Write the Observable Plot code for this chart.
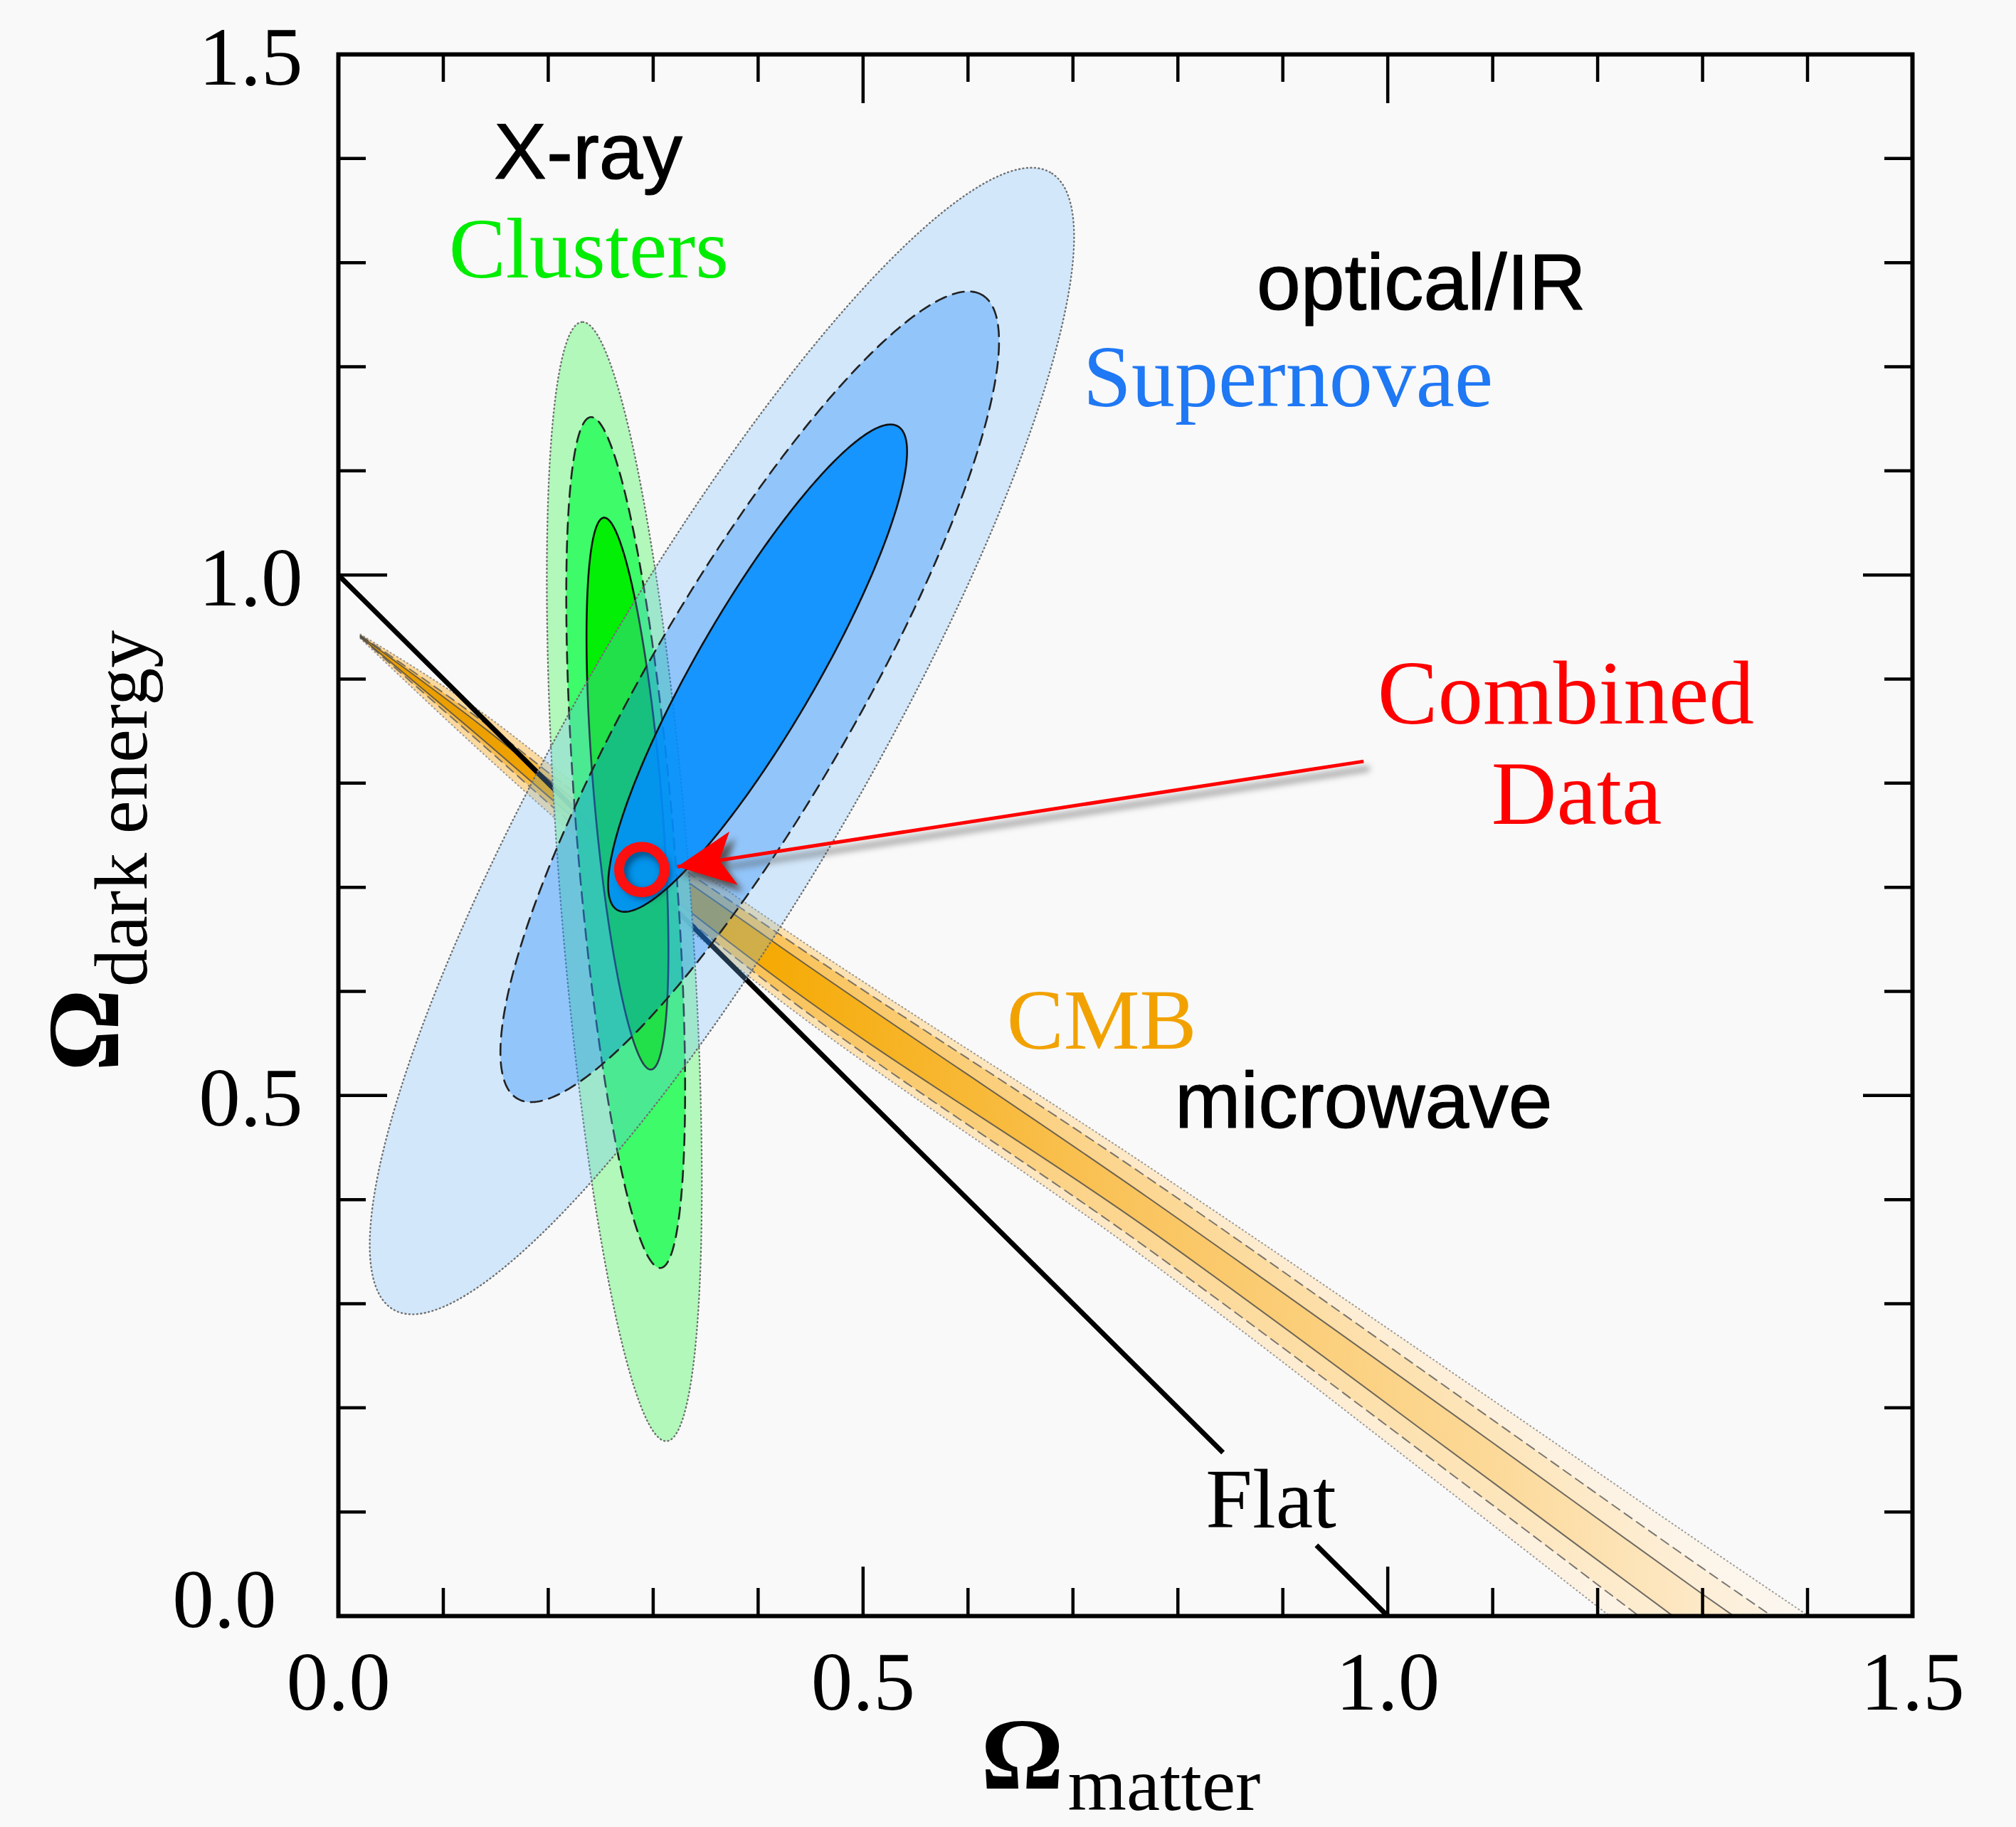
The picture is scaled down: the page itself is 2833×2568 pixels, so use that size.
<!DOCTYPE html>
<html>
<head>
<meta charset="utf-8">
<script src="https://cdn.jsdelivr.net/npm/d3@7"></script>
<script src="https://cdn.jsdelivr.net/npm/@observablehq/plot@0.6"></script>
<style>
  html, body { margin: 0; padding: 0; background: #f9f9f9; }
  #stage { position: relative; width: 2833px; height: 2568px; overflow: hidden; background: #f9f9f9; }
  #stage svg { position: absolute; left: 0; top: 0; max-width: none; }
</style>
</head>
<body>
<svg width="0" height="0" style="position:absolute;left:0;top:0">
  <defs>
    <linearGradient id="cmbOuter" x1="0" y1="0" x2="1" y2="0">
      <stop offset="0" stop-color="#fad699"/>
      <stop offset="0.27" stop-color="#fce0ad"/>
      <stop offset="0.52" stop-color="#fde9c8"/>
      <stop offset="0.75" stop-color="#fdf0dc"/>
      <stop offset="0.89" stop-color="#fcf5ea"/>
      <stop offset="1" stop-color="#faf7f1"/>
    </linearGradient>
    <linearGradient id="cmbMid" x1="0" y1="0" x2="1" y2="0">
      <stop offset="0" stop-color="#f5b84a"/>
      <stop offset="0.27" stop-color="#f9c35a"/>
      <stop offset="0.52" stop-color="#fcd793"/>
      <stop offset="0.75" stop-color="#fde5ba"/>
      <stop offset="0.89" stop-color="#fdefd8"/>
      <stop offset="1" stop-color="#fcf5ea"/>
    </linearGradient>
    <linearGradient id="cmbInner" x1="0" y1="0" x2="1" y2="0">
      <stop offset="0" stop-color="#e89c00"/>
      <stop offset="0.14" stop-color="#f0a300"/>
      <stop offset="0.27" stop-color="#f5aa05"/>
      <stop offset="0.52" stop-color="#fac560"/>
      <stop offset="0.75" stop-color="#fcd998"/>
      <stop offset="0.89" stop-color="#fde9c8"/>
      <stop offset="1" stop-color="#fdf3e2"/>
    </linearGradient>
    <marker id="arrowHeadRed" markerUnits="userSpaceOnUse" orient="auto" markerWidth="120" markerHeight="120" viewBox="-100 -60 120 120" refX="0" refY="0" overflow="visible">
      <path d="M0,0L-80,-38L-60,0L-80,38Z" fill="#ff0000"/>
    </marker>
    <marker id="arrowHeadShadow" markerUnits="userSpaceOnUse" orient="auto" markerWidth="120" markerHeight="120" viewBox="-100 -60 120 120" refX="0" refY="0" overflow="visible">
      <path d="M0,0L-80,-38L-60,0L-80,38Z" fill="#555555"/>
    </marker>
  </defs>
</svg>
<div id="stage"></div>
<script>
// ---------------- DATA ----------------
// Axis ticks and labels
const xTickValues = [0, 0.5, 1.0, 1.5];
const xTickLabels = ["0.0", "0.5", "1.0", "1.5"];
const yTickValues = [0, 0.5, 1.0, 1.5];
const yTickLabels = ["0.0", "0.5", "1.0", "1.5"];
const xMinorTicks = [0.1, 0.2, 0.3, 0.4, 0.6, 0.7, 0.8, 0.9, 1.1, 1.2, 1.3, 1.4];
const xMajorTicks = [0.5, 1.0];
const yMinorTicks = [0.1, 0.2, 0.3, 0.4, 0.6, 0.7, 0.8, 0.9, 1.1, 1.2, 1.3, 1.4];
const yMajorTicks = [0.5, 1.0];

// Flat universe line (Ωm + ΩΛ = 1), broken around the "Flat" label
const flatSegment = ["upper", "upper", "lower", "lower"];
const flatX = [0.000, 0.843, 0.932, 1.000];
const flatY = [1.000, 0.157, 0.068, 0.000];

// CMB band: centre line and half-widths of three confidence levels
const cmbX          = [0.021, 0.134, 0.225, 0.407, 0.770, 1.102, 1.300, 1.460];
const cmbCenter     = [0.941, 0.851, 0.775, 0.637, 0.388, 0.146, 0.000, -0.115];
const cmbHalfOuter  = [0.002, 0.019, 0.025, 0.035, 0.045, 0.060, 0.069, 0.075];
const cmbHalfMiddle = [0.001, 0.011, 0.016, 0.027, 0.034, 0.041, 0.046, 0.050];
const cmbHalfInner  = [0.0005, 0.006, 0.009, 0.016, 0.015, 0.019, 0.021, 0.023];

// X-ray cluster contours (outer, middle, inner): centre, semi-axes, angle (deg)
const clusterCx    = [0.2725, 0.2738, 0.2755];
const clusterCy    = [0.7055, 0.7430, 0.7900];
const clusterA     = [0.539, 0.410, 0.266];
const clusterB     = [0.062, 0.046, 0.032];
const clusterAngle = [94.3, 94.65, 94.85];

// Supernova contours (outer, middle, inner)
const snCx    = [0.3655, 0.3920, 0.3995];
const snCy    = [0.8405, 0.8830, 0.9105];
const snA     = [0.6295, 0.445, 0.268];
const snB     = [0.140, 0.100, 0.057];
const snAngle = [60.2, 60.2, 60.1];

// Combined data point and arrow
const combinedX = [0.2892];
const combinedY = [0.717];
const arrowX1 = [0.977], arrowY1 = [0.821];
const arrowX2 = [0.323], arrowY2 = [0.7197];

// Labels (baseline positions)
const serifLabelText  = ["Clusters", "Supernovae", "Combined", "Data", "CMB", "Flat"];
const serifLabelX     = [0.2386, 0.905, 1.1697, 1.180, 0.7274, 0.8887];
const serifLabelY     = [1.2856, 1.162, 0.857, 0.761, 0.545, 0.0854];
const serifLabelColor = ["#00ec00", "#1f78f4", "#ff0000", "#ff0000", "#f2a200", "#000000"];
const sansLabelText = ["X-ray", "optical/IR", "microwave"];
const sansLabelX    = [0.238, 1.032, 0.977];
const sansLabelY    = [1.381, 1.2553, 0.469];

// ---------------- LAYOUT / STYLE ----------------
const W = 2833, H = 2568, mL = 475, mR = 146, mT = 76, mB = 297;
const plotW = W - mL - mR, plotH = H - mT - mB;
const SERIF = "'Liberation Serif', 'Times New Roman', serif";
const SANS = "'Liberation Sans', Arial, Helvetica, sans-serif";

function makePlot(marks, bg) {
  const svg = Plot.plot({
    width: W, height: H,
    marginLeft: mL, marginRight: mR, marginTop: mT, marginBottom: mB,
    x: {domain: [0, 1.5], axis: null},
    y: {domain: [0, 1.5], axis: null},
    marks
  });
  svg.style.background = bg || "transparent";
  svg.style.position = "absolute";
  svg.style.left = "0px";
  svg.style.top = "0px";
  svg.style.maxWidth = "none";
  svg.style.overflow = "visible";
  return svg;
}

function ellipsePoints(cx, cy, a, b, deg) {
  const th = deg * Math.PI / 180, pts = [], n = 360;
  for (let i = 0; i < n; i++) {
    const t = 2 * Math.PI * i / n;
    const u = a * Math.cos(t), v = b * Math.sin(t);
    pts.push({x: cx + u * Math.cos(th) - v * Math.sin(th), y: cy + u * Math.sin(th) + v * Math.cos(th)});
  }
  return pts;
}

const outlineStyles = [
  {stroke: "#707070", strokeWidth: 2.4, strokeDasharray: "1,4.5"},
  {stroke: "#222222", strokeWidth: 2.6, strokeDasharray: "16,10"},
  {stroke: "#111111", strokeWidth: 2.6}
];

function ellipseMarks(cxs, cys, as, bs, angs, colors, opacities) {
  const marks = [];
  for (let i = 0; i < 3; i++) {
    const pts = ellipsePoints(cxs[i], cys[i], as[i], bs[i], angs[i]);
    marks.push(Plot.line(pts, {x: "x", y: "y", curve: "linear-closed", fill: colors[i], fillOpacity: opacities[i], stroke: "none"}));
    marks.push(Plot.line(pts, {x: "x", y: "y", curve: "linear-closed", ...outlineStyles[i]}));
  }
  return marks;
}

const cmbRows = cmbX.map((x, i) => ({x, c: cmbCenter[i], ho: cmbHalfOuter[i], hm: cmbHalfMiddle[i], hi: cmbHalfInner[i]}));
const flatRows = flatX.map((x, i) => ({x, y: flatY[i], seg: flatSegment[i]}));
const combinedRows = combinedX.map((x, i) => ({x, y: combinedY[i]}));
const arrowRows = arrowX1.map((x1, i) => ({x1, y1: arrowY1[i], x2: arrowX2[i], y2: arrowY2[i]}));

const greenColors = ["#a8f7b2", "#33fb62", "#00ee00"];
const greenOpacity = [0.9, 0.92, 0.95];
// translucent blue layers stacked over the cluster contours
const blueColors = ["#6ebcff", "#0076fc", "#008cff"];
const blueOpacity = [0.28, 0.30, 0.85];

// ---------------- LAYER 1: band, flat line, contours ----------------
const bandFills = [["ho", "url(#cmbOuter)"], ["hm", "url(#cmbMid)"], ["hi", "url(#cmbInner)"]];
const bandLines = [
  ["ho", {stroke: "#8a8a8a", strokeWidth: 2, strokeDasharray: "1,4.5", strokeOpacity: 0.85}],
  ["hm", {stroke: "#5a5a5a", strokeWidth: 2, strokeDasharray: "13,8", strokeOpacity: 0.8}],
  ["hi", {stroke: "#4a4a4a", strokeWidth: 2, strokeOpacity: 0.8}]
];
const baseMarks = [
  ...bandFills.map(([h, fill]) => Plot.areaY(cmbRows, {x: "x", y1: d => d.c - d[h], y2: d => d.c + d[h], fill, curve: "monotone-x", clip: true})),
  ...bandLines.flatMap(([h, st]) => [
    Plot.line(cmbRows, {x: "x", y: d => d.c + d[h], curve: "monotone-x", clip: true, ...st}),
    Plot.line(cmbRows, {x: "x", y: d => d.c - d[h], curve: "monotone-x", clip: true, ...st})
  ]),
  Plot.line(flatRows, {x: "x", y: "y", z: "seg", stroke: "#000", strokeWidth: 7, strokeLinecap: "butt"}),
  ...ellipseMarks(clusterCx, clusterCy, clusterA, clusterB, clusterAngle, greenColors, greenOpacity),
  ...ellipseMarks(snCx, snCy, snA, snB, snAngle, blueColors, blueOpacity)
];

// ---------------- LAYER 2: shadows ----------------
const shadowMarks = [
  Plot.link(arrowRows, {x1: "x1", y1: "y1", x2: "x2", y2: "y2", stroke: "#555555", strokeOpacity: 0.6, strokeWidth: 7, dx: 8, dy: 10}),
  Plot.dot(combinedRows, {x: "x", y: "y", r: 30, stroke: "#002244", strokeOpacity: 0.6, strokeWidth: 12, fill: "none", dx: 4, dy: 5})
];

// ---------------- LAYER 3: annotations, frame, ticks, labels ----------------
const tickStyle = {stroke: "#000", strokeWidth: 4.5};
const serifSize = {Clusters: 120, Supernovae: 122, Combined: 127, Data: 127, CMB: 120, Flat: 118};
const topMarks = [
  Plot.dot(combinedRows, {x: "x", y: "y", r: 32, stroke: "#ff1010", strokeWidth: 14, fill: "none"}),
  Plot.link(arrowRows, {x1: "x1", y1: "y1", x2: "x2", y2: "y2", stroke: "#ff0000", strokeWidth: 5}),
  // ticks (inward, all four sides)
  Plot.tickX(xMinorTicks, {x: d => d, insetTop: plotH - 39, ...tickStyle}),
  Plot.tickX(xMajorTicks, {x: d => d, insetTop: plotH - 69, ...tickStyle}),
  Plot.tickX(xMinorTicks, {x: d => d, insetBottom: plotH - 39, ...tickStyle}),
  Plot.tickX(xMajorTicks, {x: d => d, insetBottom: plotH - 69, ...tickStyle}),
  Plot.tickY(yMinorTicks, {y: d => d, insetRight: plotW - 39, ...tickStyle}),
  Plot.tickY(yMajorTicks, {y: d => d, insetRight: plotW - 69, ...tickStyle}),
  Plot.tickY(yMinorTicks, {y: d => d, insetLeft: plotW - 39, ...tickStyle}),
  Plot.tickY(yMajorTicks, {y: d => d, insetLeft: plotW - 69, ...tickStyle}),
  Plot.frame({stroke: "#000", strokeWidth: 6}),
  // tick labels
  Plot.text(xTickValues, {x: d => d, text: (d, i) => xTickLabels[i], frameAnchor: "bottom", dy: 94,
    fontFamily: SERIF, fontSize: 117, fill: "#000", textAnchor: "middle", lineAnchor: "middle"}),
  Plot.text(yTickValues.slice(1), {y: d => d, text: (d, i) => yTickLabels[i + 1], frameAnchor: "left", dx: -50, dy: 5,
    fontFamily: SERIF, fontSize: 117, fill: "#000", textAnchor: "end", lineAnchor: "middle"}),
  Plot.text(yTickValues.slice(0, 1), {y: d => d, text: (d, i) => yTickLabels[i], frameAnchor: "left", dx: -87, dy: -22,
    fontFamily: SERIF, fontSize: 117, fill: "#000", textAnchor: "end", lineAnchor: "middle"}),
  // axis titles
  Plot.text(["Ω"], {text: d => d, frameAnchor: "bottom", dx: -145, dy: 242, fontFamily: SERIF, fontSize: 145,
    fontWeight: "bold", fill: "#000", textAnchor: "middle", lineAnchor: "bottom"}),
  Plot.text(["matter"], {text: d => d, frameAnchor: "bottom", dx: -81, dy: 272, fontFamily: SERIF, fontSize: 106,
    fill: "#000", textAnchor: "start", lineAnchor: "bottom"}),
  Plot.text(["Ω"], {text: d => d, frameAnchor: "left", dx: -310, dy: 274, rotate: -90, fontFamily: SERIF, fontSize: 145,
    fontWeight: "bold", fill: "#000", textAnchor: "middle", lineAnchor: "bottom"}),
  Plot.text(["dark energy"], {text: d => d, frameAnchor: "left", dx: -270, dy: 213, rotate: -90, fontFamily: SERIF, fontSize: 106,
    fill: "#000", textAnchor: "start", lineAnchor: "bottom"}),
  // in-plot labels
  ...serifLabelText.map((t, i) => Plot.text([i], {x: j => serifLabelX[j], y: j => serifLabelY[j], text: j => serifLabelText[j],
    fill: serifLabelColor[i], fontFamily: SERIF, fontSize: serifSize[t], textAnchor: "middle", lineAnchor: "bottom"})),
  Plot.text(sansLabelText, {x: (d, i) => sansLabelX[i], y: (d, i) => sansLabelY[i], text: d => d,
    fill: "#000", stroke: "#000", strokeWidth: 1.2, fontFamily: SANS, fontSize: 111, textAnchor: "middle", lineAnchor: "bottom"})
];

// ---------------- RENDER ----------------
const stageEl = document.getElementById("stage");
const baseLayer = makePlot(baseMarks, "#f9f9f9");
const shadowLayer = makePlot(shadowMarks);
shadowLayer.style.filter = "blur(5px)";
const topLayer = makePlot(topMarks);
[baseLayer, shadowLayer, topLayer].forEach(s => stageEl.appendChild(s));

shadowLayer.querySelectorAll('g[aria-label="link"] path').forEach(p => p.setAttribute("marker-end", "url(#arrowHeadShadow)"));
topLayer.querySelectorAll('g[aria-label="link"] path').forEach(p => p.setAttribute("marker-end", "url(#arrowHeadRed)"));
</script>
</body>
</html>
